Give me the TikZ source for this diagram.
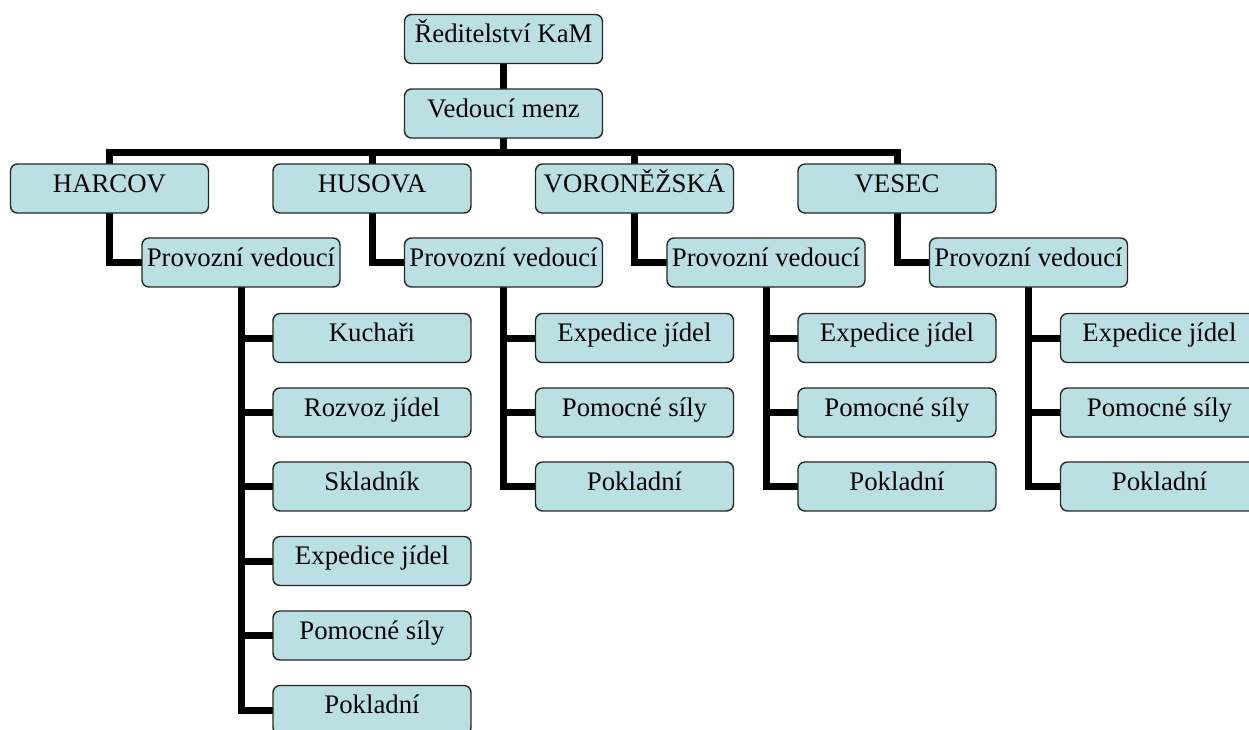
\documentclass[tikz,border=0pt]{standalone}
\usepackage{fontspec}
\setmainfont{Liberation Serif}
\usetikzlibrary{backgrounds}
\definecolor{boxfill}{HTML}{BBE0E3}
\begin{document}
\begin{tikzpicture}[x=1pt,y=-1pt,
  box/.style={draw=black!85, line width=1.4pt, fill=boxfill, rounded corners=7pt,
    minimum width=198pt, minimum height=49pt, inner sep=0pt,
    text height=18pt, text depth=11pt,
    font=\fontsize{26.8}{30}\selectfont},
  conn/.style={line width=7pt, line cap=rect, line join=miter}]
\useasboundingbox (0,0) rectangle (1249,729);
\clip (0,0) rectangle (1249,729);
% nodes
\node[box] (dir) at (503.5,39) {Ředitelství KaM};
\node[box] (vm) at (503.5,113.5) {Vedoucí menz};
\node[box] (t0) at (109.5,188.5) {HARCOV};
\node[box] (t1) at (372,188.5) {HUSOVA};
\node[box] (t2) at (634.5,188.5) {VORONĚŽSKÁ};
\node[box] (t3) at (897,188.5) {VESEC};
\foreach \k/\x in {0/241,1/503.5,2/766,3/1028.5}
  \node[box] (p\k) at (\x,262.5) {Provozní vedoucí};
% HARCOV children
\node[box] (c0a) at (372,338) {Kuchaři};
\node[box] (c0b) at (372,412.5) {Rozvoz jídel};
\node[box] (c0c) at (372,486.5) {Skladník};
\node[box] (c0d) at (372,561) {Expedice jídel};
\node[box] (c0e) at (372,635.5) {Pomocné síly};
\node[box] (c0f) at (372,710) {Pokladní};
% other children
\foreach \k/\x in {1/634.5,2/897,3/1159.5}{
  \node[box] (c\k a) at (\x,338) {Expedice jídel};
  \node[box] (c\k b) at (\x,412.5) {Pomocné síly};
  \node[box] (c\k c) at (\x,486.5) {Pokladní};
}
\coordinate (bus) at (503.5,152);
% connectors (behind the boxes)
\begin{scope}[on background layer]
  \draw[conn] (dir.south) -- (vm.north);
  \draw[conn] (vm.south) -- (bus);
  \draw[conn] (t0.north) |- (bus) -| (t3.north);
  \draw[conn] (t1.north) |- (bus);
  \draw[conn] (t2.north) |- (bus);
  \foreach \k in {0,1,2,3}
    \draw[conn] (t\k.south) |- (p\k.west);
  \foreach \c in {a,b,c,d,e,f}
    \draw[conn] (p0.south) |- (c0\c.west);
  \foreach \k in {1,2,3}
    \foreach \c in {a,b,c}
      \draw[conn] (p\k.south) |- (c\k\c.west);
\end{scope}
\end{tikzpicture}
\end{document}
